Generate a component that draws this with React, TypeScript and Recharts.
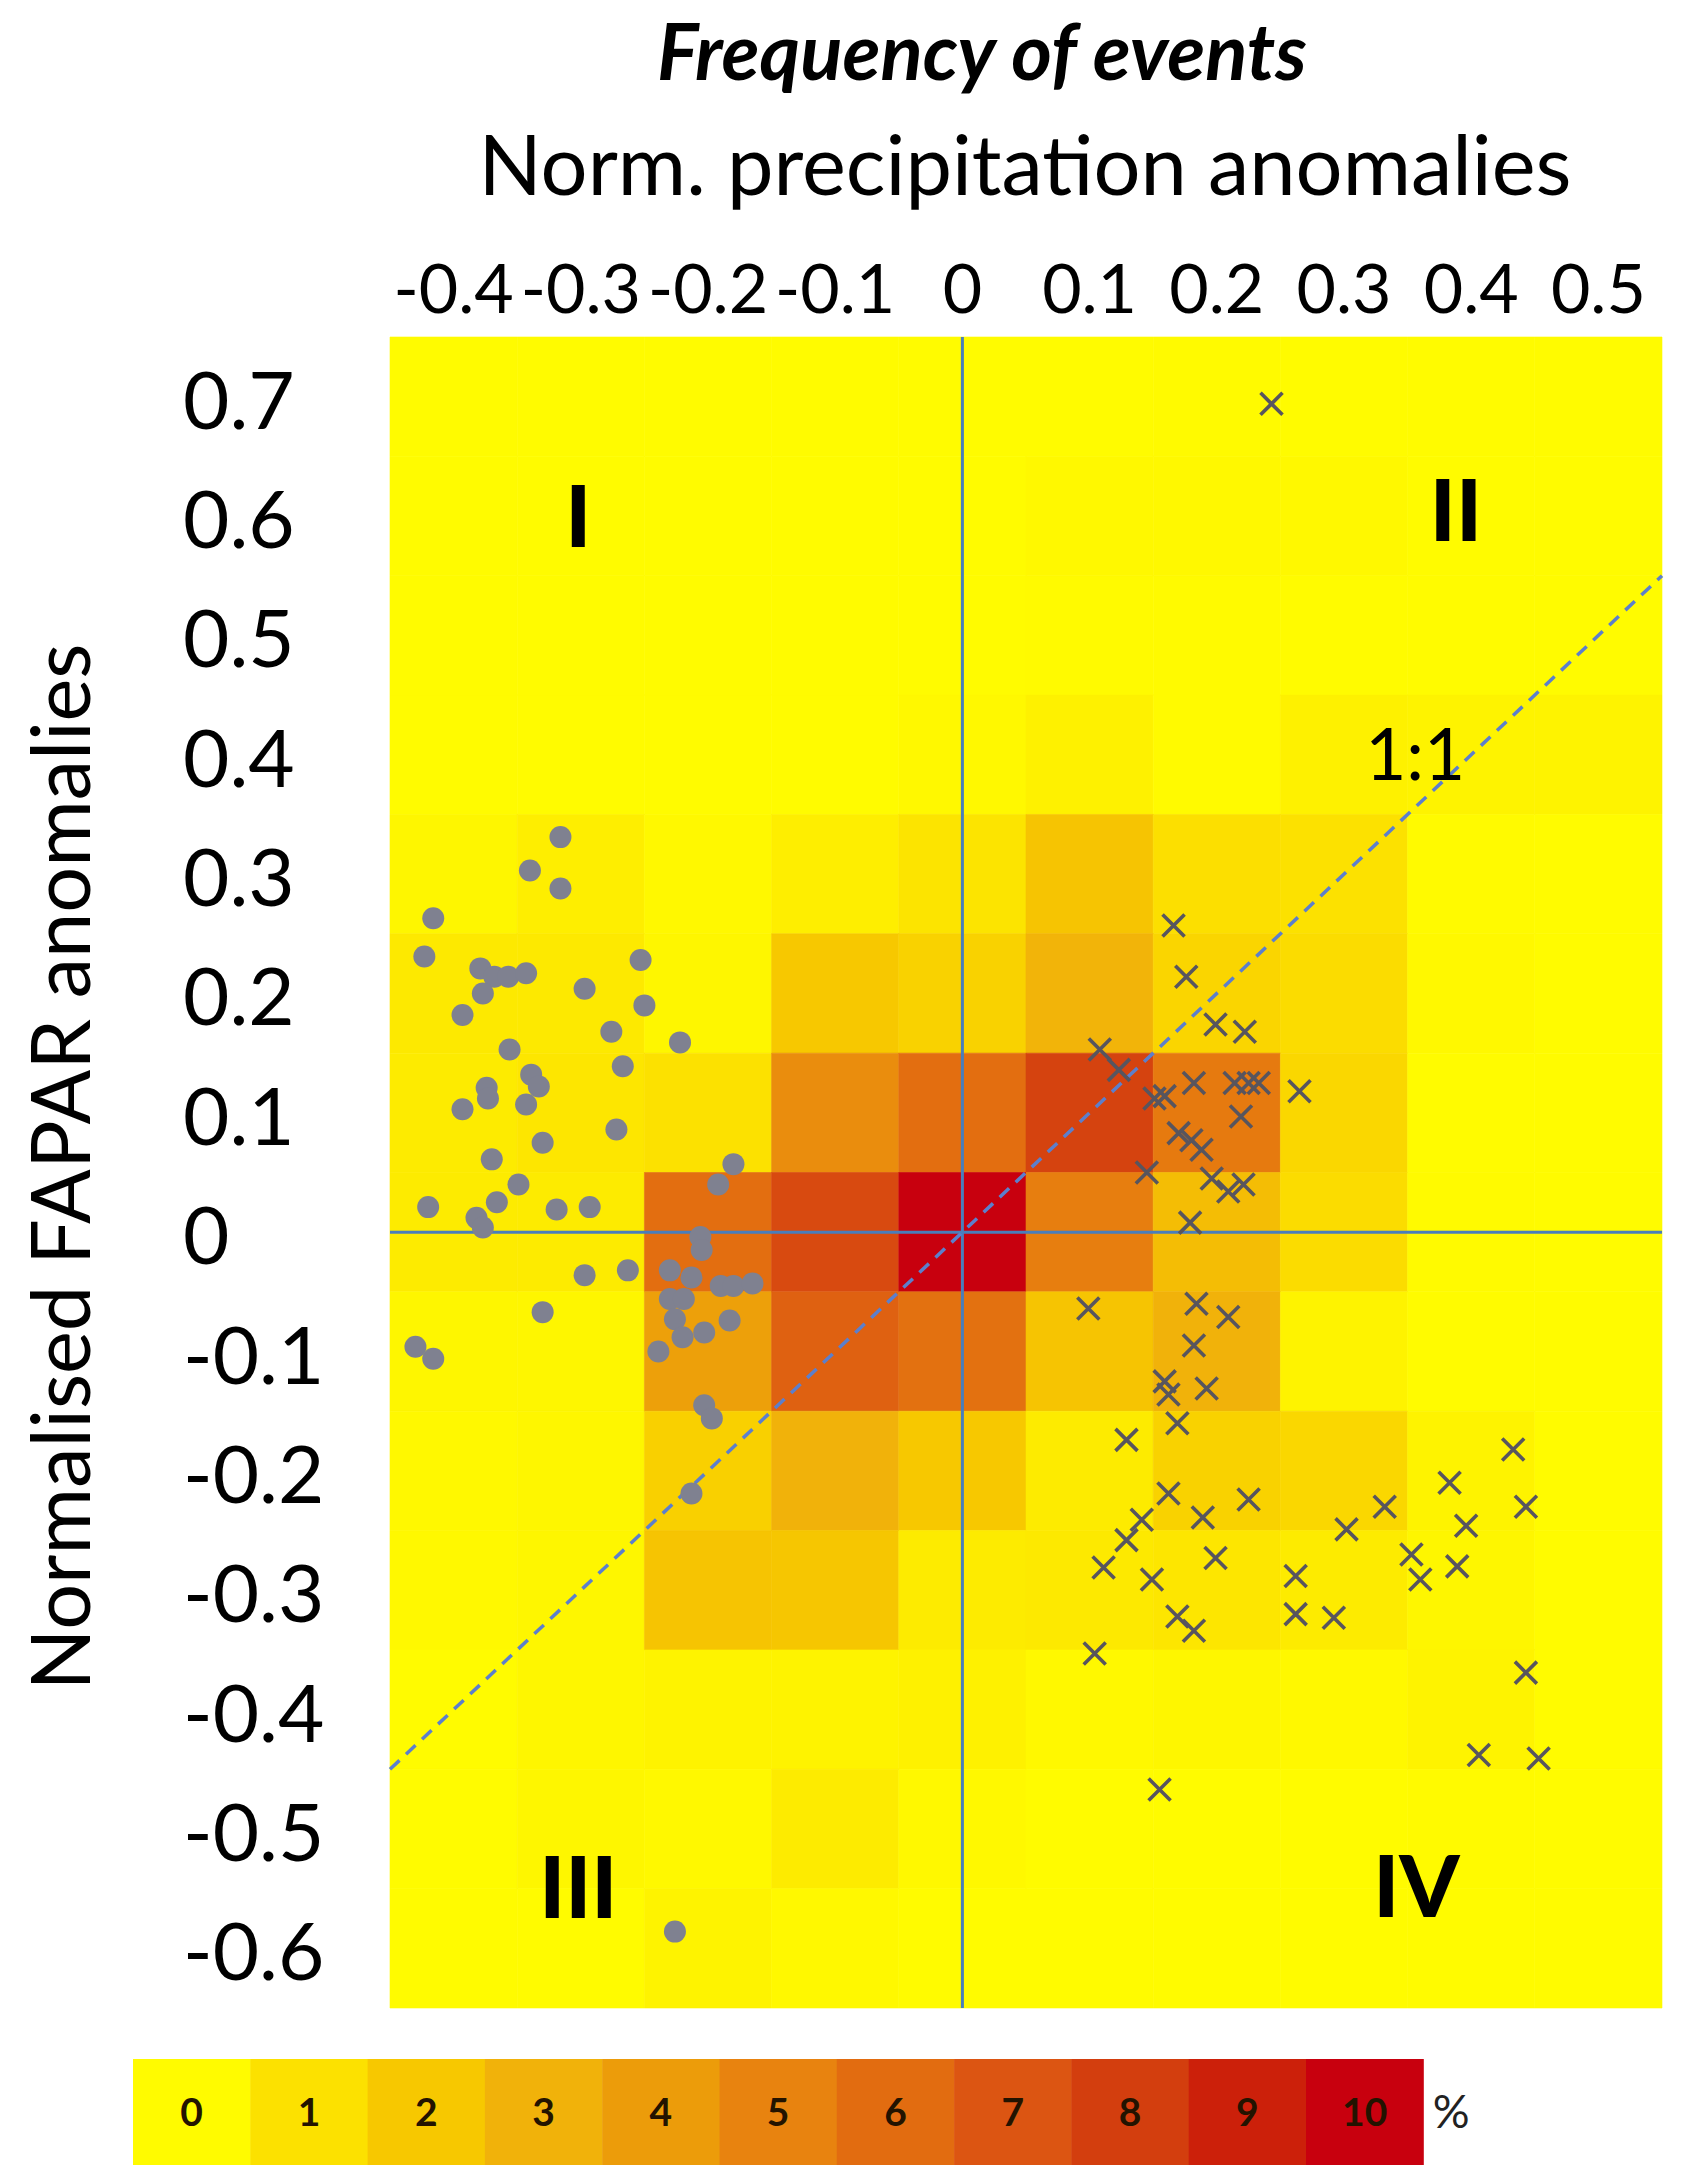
import React from 'react';
import {
  ScatterChart,
  Scatter,
  XAxis,
  YAxis,
  ReferenceArea,
  ReferenceLine,
  ReferenceDot,
} from 'recharts';

// ---------- data ----------
const xCenters = [-0.4, -0.3, -0.2, -0.1, 0, 0.1, 0.2, 0.3, 0.4, 0.5];
const yCenters = [0.7, 0.6, 0.5, 0.4, 0.3, 0.2, 0.1, 0, -0.1, -0.2, -0.3, -0.4, -0.5, -0.6];

// frequency of events (%) per cell, rows follow yCenters, columns follow xCenters
const frequency = [
  [0, 0, 0, 0, 0, 0, 0.05, 0, 0, 0],
  [0, 0, 0, 0, 0, 0.1, 0.1, 0.1, 0, 0],
  [0, 0, 0, 0, 0, 0.05, 0.05, 0, 0, 0],
  [0, 0, 0, 0, 0.1, 0.4, 0.05, 0.4, 0.3, 0.3],
  [0.2, 0.5, 0.1, 0.5, 0.9, 2.2, 1.1, 1.0, 0.05, 0],
  [0.7, 0.7, 0.2, 2.0, 1.6, 2.9, 1.5, 1.2, 0.1, 0],
  [0.6, 0.8, 1.0, 4.6, 5.9, 7.8, 5.4, 1.4, 0, 0],
  [0.6, 0.6, 5.9, 7.5, 10, 5.2, 2.5, 1.2, 0.05, 0],
  [0.2, 0.2, 3.8, 6.5, 5.8, 2.2, 3.0, 0.3, 0, 0],
  [0.1, 0.2, 1.7, 3.0, 2.0, 0.6, 1.6, 1.4, 0.3, 0],
  [0.1, 0.2, 2.2, 2.1, 0.6, 0.7, 0.8, 0.6, 0.2, 0],
  [0, 0.2, 0.3, 0.3, 0.4, 0.1, 0.2, 0.1, 0.3, 0],
  [0, 0.2, 0.1, 0.6, 0.1, 0, 0, 0, 0.05, 0],
  [0, 0, 0.3, 0.1, 0, 0, 0, 0, 0, 0],
];

const scaleSteps = [0, 1, 2, 3, 4, 5, 6, 7, 8, 9, 10];
const scaleColors = [
  '#FFFB00', '#FCE100', '#F7C800', '#F1B20A', '#EC9C0A', '#E8830F',
  '#E26C10', '#DC5512', '#D33E0E', '#CC200A', '#C8000E',
];

// grey dots: events in quadrants I / III
const dryEvents = [
  { x: -0.316, y: 0.331 }, { x: -0.34, y: 0.303 }, { x: -0.316, y: 0.288 },
  { x: -0.416, y: 0.263 }, { x: -0.423, y: 0.231 }, { x: -0.379, y: 0.221 },
  { x: -0.368, y: 0.214 }, { x: -0.357, y: 0.214 }, { x: -0.343, y: 0.217 },
  { x: -0.253, y: 0.228 }, { x: -0.377, y: 0.2 }, { x: -0.297, y: 0.204 },
  { x: -0.393, y: 0.182 }, { x: -0.25, y: 0.19 }, { x: -0.276, y: 0.168 },
  { x: -0.222, y: 0.159 }, { x: -0.356, y: 0.153 }, { x: -0.267, y: 0.139 },
  { x: -0.339, y: 0.132 }, { x: -0.333, y: 0.122 }, { x: -0.374, y: 0.121 },
  { x: -0.373, y: 0.112 }, { x: -0.393, y: 0.103 }, { x: -0.343, y: 0.107 },
  { x: -0.272, y: 0.086 }, { x: -0.33, y: 0.075 }, { x: -0.37, y: 0.061 },
  { x: -0.18, y: 0.057 }, { x: -0.349, y: 0.04 }, { x: -0.192, y: 0.04 },
  { x: -0.42, y: 0.021 }, { x: -0.366, y: 0.025 }, { x: -0.382, y: 0.012 },
  { x: -0.377, y: 0.004 }, { x: -0.319, y: 0.019 }, { x: -0.293, y: 0.021 },
  { x: -0.206, y: -0.004 }, { x: -0.205, y: -0.015 }, { x: -0.297, y: -0.036 },
  { x: -0.263, y: -0.032 }, { x: -0.23, y: -0.032 }, { x: -0.213, y: -0.038 },
  { x: -0.19, y: -0.045 }, { x: -0.18, y: -0.045 }, { x: -0.165, y: -0.043 },
  { x: -0.23, y: -0.056 }, { x: -0.219, y: -0.056 }, { x: -0.33, y: -0.067 },
  { x: -0.226, y: -0.073 }, { x: -0.183, y: -0.074 }, { x: -0.43, y: -0.096 },
  { x: -0.416, y: -0.106 }, { x: -0.22, y: -0.088 }, { x: -0.203, y: -0.084 },
  { x: -0.239, y: -0.1 }, { x: -0.203, y: -0.145 }, { x: -0.197, y: -0.156 },
  { x: -0.213, y: -0.219 }, { x: -0.226, y: -0.586 },
];

// crosses: events in quadrants II / IV
const wetEvents = [
  { x: 0.243, y: 0.694 }, { x: 0.166, y: 0.257 }, { x: 0.176, y: 0.214 },
  { x: 0.199, y: 0.174 }, { x: 0.222, y: 0.168 }, { x: 0.108, y: 0.153 },
  { x: 0.123, y: 0.136 }, { x: 0.182, y: 0.125 }, { x: 0.214, y: 0.125 },
  { x: 0.225, y: 0.125 }, { x: 0.233, y: 0.125 }, { x: 0.265, y: 0.118 },
  { x: 0.151, y: 0.112 }, { x: 0.159, y: 0.114 }, { x: 0.219, y: 0.097 },
  { x: 0.17, y: 0.083 }, { x: 0.18, y: 0.077 }, { x: 0.188, y: 0.069 },
  { x: 0.145, y: 0.05 }, { x: 0.196, y: 0.045 }, { x: 0.209, y: 0.034 },
  { x: 0.221, y: 0.04 }, { x: 0.179, y: 0.008 }, { x: 0.099, y: -0.064 },
  { x: 0.184, y: -0.06 }, { x: 0.209, y: -0.071 }, { x: 0.182, y: -0.095 },
  { x: 0.159, y: -0.125 }, { x: 0.162, y: -0.136 }, { x: 0.192, y: -0.131 },
  { x: 0.169, y: -0.16 }, { x: 0.129, y: -0.174 }, { x: 0.162, y: -0.219 },
  { x: 0.225, y: -0.224 }, { x: 0.141, y: -0.241 }, { x: 0.189, y: -0.239 },
  { x: 0.129, y: -0.258 }, { x: 0.111, y: -0.281 }, { x: 0.149, y: -0.291 },
  { x: 0.199, y: -0.273 }, { x: 0.169, y: -0.322 }, { x: 0.182, y: -0.334 },
  { x: 0.104, y: -0.353 }, { x: 0.262, y: -0.288 }, { x: 0.262, y: -0.32 },
  { x: 0.292, y: -0.323 }, { x: 0.302, y: -0.249 }, { x: 0.332, y: -0.23 },
  { x: 0.353, y: -0.27 }, { x: 0.36, y: -0.291 }, { x: 0.383, y: -0.21 },
  { x: 0.396, y: -0.246 }, { x: 0.389, y: -0.28 }, { x: 0.433, y: -0.182 },
  { x: 0.443, y: -0.23 }, { x: 0.443, y: -0.369 }, { x: 0.406, y: -0.438 },
  { x: 0.453, y: -0.441 }, { x: 0.155, y: -0.467 },
];

const quadrantLabels = [
  { text: 'I', x: -0.302, y: 0.6 },
  { text: 'II', x: 0.388, y: 0.605 },
  { text: 'III', x: -0.302, y: -0.549 },
  { text: 'IV', x: 0.357, y: -0.548 },
];
const oneToOne = [{ x: -0.45, y: -0.45 }, { x: 0.55, y: 0.55 }];

// ---------- styling helpers ----------
const FONT = 'Lato, "Open Sans", "DejaVu Sans", sans-serif';
const W = 1684;
const H = 2179;
const HALF = 0.05;

function hexToRgb(h: string) {
  const n = parseInt(h.slice(1), 16);
  return [(n >> 16) & 255, (n >> 8) & 255, n & 255];
}
function colorFor(v: number) {
  const lo = Math.max(0, Math.min(10, Math.floor(v)));
  const hi = Math.min(10, lo + 1);
  const t = Math.min(1, Math.max(0, v - lo));
  const a = hexToRgb(scaleColors[lo]);
  const b = hexToRgb(scaleColors[hi]);
  const c = a.map((av, i) => Math.round(av + (b[i] - av) * t));
  return `rgb(${c[0]},${c[1]},${c[2]})`;
}
const r3 = (v: number) => Math.round(v * 1000) / 1000;

const cells = yCenters.flatMap((yc, ri) =>
  xCenters.map((xc, ci) => ({
    key: `c${ri}-${ci}`,
    x1: r3(xc - HALF),
    x2: r3(xc + HALF),
    y1: r3(yc - HALF),
    y2: r3(yc + HALF),
    color: colorFor(frequency[ri][ci]),
  }))
);

const XTick = (props: any) => {
  const { x, payload } = props;
  return (
    <text x={x} y={313} textAnchor="middle" fontSize={68} fontFamily={FONT} fill="#000">
      {String(payload.value)}
    </text>
  );
};
const YTick = (props: any) => {
  const { y, payload } = props;
  return (
    <text x={183} y={y + 32} textAnchor="start" fontSize={80} fontFamily={FONT} fill="#000">
      {String(payload.value)}
    </text>
  );
};

const CrossShape = (props: any) => {
  const { cx, cy } = props;
  const s = 11;
  return (
    <path
      d={`M${cx - s},${cy - s}L${cx + s},${cy + s}M${cx - s},${cy + s}L${cx + s},${cy - s}`}
      stroke="#58555E"
      strokeWidth={3.6}
      fill="none"
    />
  );
};
const DotShape = (props: any) => {
  const { cx, cy } = props;
  return <circle cx={cx} cy={cy} r={11} fill="#7F8190" />;
};

const textLabel = (text: string, size: number, weight: number | string) => (p: any) => {
  const vb = p.viewBox || {};
  const cx = (vb.x || 0) + (vb.width || 0) / 2;
  const cy = (vb.y || 0) + (vb.height || 0) / 2;
  return (
    <text
      x={cx}
      y={cy + size * 0.36}
      textAnchor="middle"
      fontSize={size}
      fontWeight={weight}
      fontFamily={FONT}
      fill="#000"
    >
      {text}
    </text>
  );
};

const BAR_LEFT = 133;
const BAR_TOP = 2059;
const BAR_CELL = 117.3;
const BAR_H = 106;

export default function App() {
  return (
    <div style={{ position: 'absolute', left: 0, top: 0, width: W, height: H, background: '#fff' }}>
      <ScatterChart
        width={W}
        height={H}
        margin={{ top: 277, right: 22, bottom: 171, left: 190 }}
        style={{ position: 'absolute', left: 0, top: 0 }}
      >
        <XAxis
          type="number"
          dataKey="x"
          orientation="top"
          height={60}
          domain={[-0.45, 0.55]}
          ticks={xCenters}
          allowDataOverflow
          axisLine={false}
          tickLine={false}
          tick={<XTick />}
          interval={0}
          label={{
            content: () => (
              <text x={1025} y={195} textAnchor="middle" fontSize={83} fontFamily={FONT} fill="#000">
                Norm. precipitation anomalies
              </text>
            ),
          }}
        />
        <YAxis
          type="number"
          dataKey="y"
          width={200}
          domain={[-0.65, 0.75]}
          ticks={yCenters}
          allowDataOverflow
          axisLine={false}
          tickLine={false}
          tick={<YTick />}
          interval={0}
          label={{
            content: () => (
              <text
                x={90}
                y={1167}
                transform="rotate(-90 90 1167)"
                textAnchor="middle"
                fontSize={81}
                fontFamily={FONT}
                fill="#000"
              >
                Normalised FAPAR anomalies
              </text>
            ),
          }}
        />
        {cells.map((c) => (
          <ReferenceArea
            key={c.key}
            x1={c.x1}
            x2={c.x2}
            y1={c.y1}
            y2={c.y2}
            fill={c.color}
            fillOpacity={1}
            stroke={c.color}
            strokeWidth={0.6}
            ifOverflow="visible"
          />
        ))}
        <ReferenceLine y={0} stroke="#4A7EBB" strokeWidth={3} ifOverflow="visible" />
        <ReferenceLine x={0} stroke="#4A7EBB" strokeWidth={3} ifOverflow="visible" />
        <ReferenceLine
          segment={oneToOne}
          stroke="#5C7FCC"
          strokeWidth={3.5}
          strokeDasharray="13 9"
          ifOverflow="visible"
        />
        <Scatter data={dryEvents} shape={<DotShape />} isAnimationActive={false} />
        <Scatter data={wetEvents} shape={<CrossShape />} isAnimationActive={false} />
        {quadrantLabels.map((q) => (
          <ReferenceDot
            key={q.text}
            x={q.x}
            y={q.y}
            r={1}
            fill="none"
            stroke="none"
            ifOverflow="visible"
            label={{ content: textLabel(q.text, 86, 900) }}
          />
        ))}
        <ReferenceDot
          x={0.356}
          y={0.4}
          r={1}
          fill="none"
          stroke="none"
          ifOverflow="visible"
          label={{ content: textLabel('1:1', 71, 400) }}
        />
      </ScatterChart>
      <svg width={W} height={H} style={{ position: 'absolute', left: 0, top: 0, pointerEvents: 'none' }}>
        <text
          x={982}
          y={80}
          textAnchor="middle"
          fontSize={78}
          fontWeight={700}
          fontStyle="italic"
          fontFamily={FONT}
          fill="#000"
        >
          Frequency of events
        </text>
        {scaleSteps.map((s, i) => (
          <g key={s}>
            <rect
              x={BAR_LEFT + i * BAR_CELL}
              y={BAR_TOP}
              width={BAR_CELL + 0.5}
              height={BAR_H}
              fill={scaleColors[i]}
            />
            <text
              x={BAR_LEFT + i * BAR_CELL + BAR_CELL / 2}
              y={BAR_TOP + BAR_H / 2 + 14}
              textAnchor="middle"
              fontSize={39}
              fontWeight={700}
              fontFamily={FONT}
              fill="#231300"
            >
              {s}
            </text>
          </g>
        ))}
        <text
          x={BAR_LEFT + 11 * BAR_CELL + 28}
          y={BAR_TOP + BAR_H / 2 + 16}
          textAnchor="middle"
          fontSize={46}
          fontFamily={FONT}
          fill="#222"
        >
          %
        </text>
      </svg>
    </div>
  );
}
